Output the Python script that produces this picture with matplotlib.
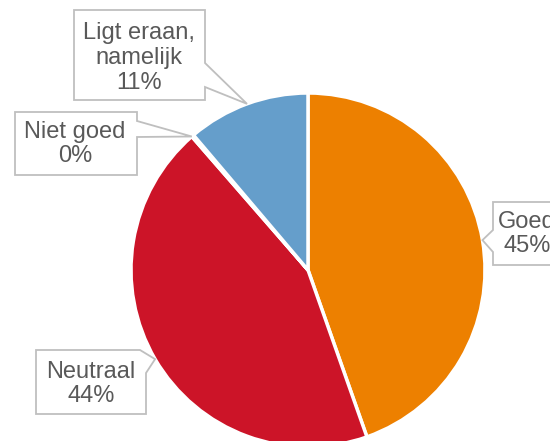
import numpy as np
import matplotlib
matplotlib.use("Agg")
import matplotlib.pyplot as plt
from matplotlib.patches import Polygon

labels = ["Goed", "Neutraal", "Niet goed", "Ligt eraan,\nnamelijk"]
values = [44.6, 44.0, 0.2, 11.2]
pct_text = ["45%", "44%", "0%", "11%"]
colors = ["#ED8000", "#CC1428", "#CC1428", "#659ECB"]

W, H = 550, 441
CX, CY, R = 308, 270, 177   # pie centre and radius in pixels


def px(x, y):
    # pixel position (from top-left) -> data coords
    return (x - CX) / R, (CY - y) / R


fig = plt.figure(figsize=(W / 100, H / 100), dpi=100)
ax = fig.add_axes([0, 0, 1, 1])

wedges, _ = ax.pie(values, colors=colors, startangle=90, counterclock=False,
                   radius=1.0, wedgeprops=dict(edgecolor="white", linewidth=2.5))

# pie() resets the limits, so set them afterwards
ax.set_xlim(-CX / R, (W - CX) / R)
ax.set_ylim((CY - H) / R, CY / R)
ax.set_aspect("auto")
ax.axis("off")

# callout boxes: box (x0, y0, x1, y1), notch side, notch range, text centre
boxes = {
    0: dict(box=(493, 202, 580, 265), side="left", notch=(230, 252), text=(527, 234)),
    1: dict(box=(36, 350, 146, 414), side="corner", notch=(140, 373), text=(91, 384)),
    2: dict(box=(15, 112, 137, 175), side="right", notch=(121, 137), text=(75, 144)),
    3: dict(box=(74, 10, 205, 100), side="right", notch=(63, 87), text=(139, 58)),
}

for i, w in enumerate(wedges):
    b = boxes[i]
    if i == 2:
        ang = np.deg2rad(w.theta2)
    else:
        ang = np.deg2rad((w.theta1 + w.theta2) / 2)
    tip = (np.cos(ang) * 1.0, np.sin(ang) * 1.0)
    x0, y0, x1, y1 = b["box"]
    n0, n1 = b["notch"]
    if b["side"] == "right":
        pts = [px(x0, y0), px(x1, y0), px(x1, n0), tip, px(x1, n1), px(x1, y1), px(x0, y1)]
    elif b["side"] == "left":
        pts = [px(x0, y0), px(x1, y0), px(x1, y1), px(x0, y1), px(x0, n1), tip, px(x0, n0)]
    else:
        pts = [px(x0, y0), px(n0, y0), tip, px(x1, n1), px(x1, y1), px(x0, y1)]
    ax.add_patch(Polygon(pts, closed=True, facecolor="white", edgecolor="#BFBFBF",
                         linewidth=1.3, zorder=3))
    tx, ty = px(*b["text"])
    ax.text(tx, ty, labels[i] + "\n" + pct_text[i], ha="center", va="center",
            fontsize=17, color="#595959", family="Liberation Sans",
            linespacing=1.15, zorder=4)

plt.savefig("out.png", dpi=100)
plt.close()
